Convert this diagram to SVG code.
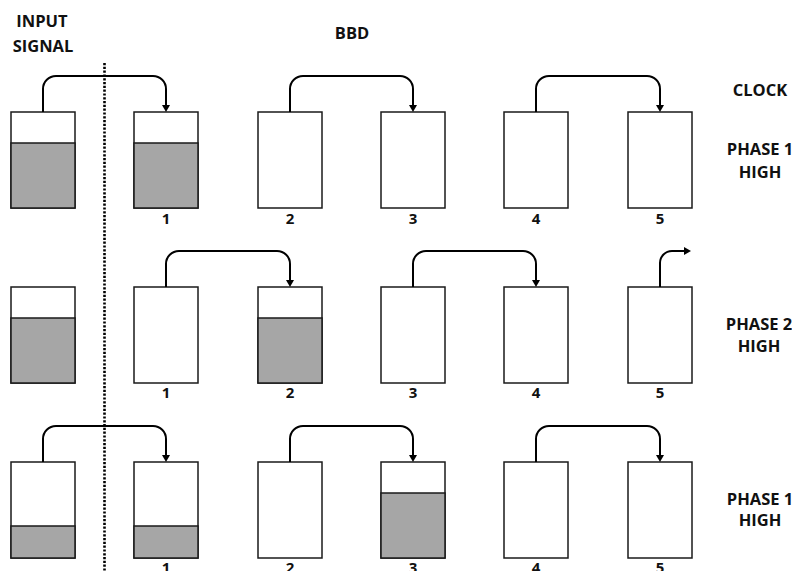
<svg xmlns="http://www.w3.org/2000/svg" width="792" height="571" viewBox="0 0 792 571">
<style>
  .box{fill:#fff;stroke:#1a1a1a;stroke-width:1.5}
  .fill{fill:#a6a6a6;stroke:#1a1a1a;stroke-width:1.5}
  .conn{fill:none;stroke:#000;stroke-width:2}
  .t{font-family:"Open Sans","DejaVu Sans",sans-serif;font-weight:700;font-size:16.5px;fill:#111;text-anchor:middle}
  .n{font-family:"Open Sans","DejaVu Sans",sans-serif;font-weight:700;font-size:15px;fill:#111;text-anchor:middle}
</style>
<defs>
  <marker id="ah" viewBox="0 0 7 8" refX="1" refY="4" markerWidth="7" markerHeight="8" markerUnits="userSpaceOnUse" orient="auto">
    <path d="M0,0 L7,4 L0,8 z" fill="#000"/>
  </marker>
</defs>
<rect width="792" height="571" fill="#fff"/>

<g id="labels">
  <text class="t" x="42" y="27">INPUT</text>
  <text class="t" x="43" y="52">SIGNAL</text>
  <text class="t" x="352" y="39">BBD</text>
  <text class="t" x="760" y="96">CLOCK</text>
  <text class="t" x="760" y="155">PHASE 1</text>
  <text class="t" x="760" y="178">HIGH</text>
  <text class="t" x="759" y="330">PHASE 2</text>
  <text class="t" x="759" y="352">HIGH</text>
  <text class="t" x="760" y="505">PHASE 1</text>
  <text class="t" x="760" y="526">HIGH</text>
</g>

<line id="divider" x1="104.5" y1="63" x2="104.5" y2="571" stroke="#000" stroke-width="2.6" stroke-dasharray="2.2 1.6"/>

<!-- Row 1 -->
<g id="r1-in"><rect class="box" x="11" y="112" width="64" height="96"/><rect class="fill" x="11" y="143" width="64" height="65"/></g>
<g id="r1-c1"><rect class="box" x="134" y="112" width="64" height="96"/><rect class="fill" x="134" y="143" width="64" height="65"/><text class="n" x="166" y="224">1</text></g>
<g id="r1-c2"><rect class="box" x="258" y="112" width="64" height="96"/><text class="n" x="290" y="224">2</text></g>
<g id="r1-c3"><rect class="box" x="381" y="112" width="64" height="96"/><text class="n" x="413" y="224">3</text></g>
<g id="r1-c4"><rect class="box" x="504" y="112" width="64" height="96"/><text class="n" x="536" y="224">4</text></g>
<g id="r1-c5"><rect class="box" x="628" y="112" width="64" height="96"/><text class="n" x="660" y="224">5</text></g>

<!-- Row 2 -->
<g id="r2-in"><rect class="box" x="11" y="287" width="64" height="96"/><rect class="fill" x="11" y="318" width="64" height="65"/></g>
<g id="r2-c1"><rect class="box" x="134" y="287" width="64" height="96"/><text class="n" x="166" y="398">1</text></g>
<g id="r2-c2"><rect class="box" x="258" y="287" width="64" height="96"/><rect class="fill" x="258" y="318" width="64" height="65"/><text class="n" x="290" y="398">2</text></g>
<g id="r2-c3"><rect class="box" x="381" y="287" width="64" height="96"/><text class="n" x="413" y="398">3</text></g>
<g id="r2-c4"><rect class="box" x="504" y="287" width="64" height="96"/><text class="n" x="536" y="398">4</text></g>
<g id="r2-c5"><rect class="box" x="628" y="287" width="64" height="96"/><text class="n" x="660" y="398">5</text></g>

<!-- Row 3 -->
<g id="r3-in"><rect class="box" x="11" y="462" width="64" height="96"/><rect class="fill" x="11" y="526" width="64" height="32"/></g>
<g id="r3-c1"><rect class="box" x="134" y="462" width="64" height="96"/><rect class="fill" x="134" y="526" width="64" height="32"/><text class="n" x="166" y="573">1</text></g>
<g id="r3-c2"><rect class="box" x="258" y="462" width="64" height="96"/><text class="n" x="290" y="573">2</text></g>
<g id="r3-c3"><rect class="box" x="381" y="462" width="64" height="96"/><rect class="fill" x="381" y="493" width="64" height="65"/><text class="n" x="413" y="573">3</text></g>
<g id="r3-c4"><rect class="box" x="504" y="462" width="64" height="96"/><text class="n" x="536" y="573">4</text></g>
<g id="r3-c5"><rect class="box" x="628" y="462" width="64" height="96"/><text class="n" x="660" y="573">5</text></g>

<g id="connectors">
  <path class="conn" marker-end="url(#ah)" d="M43 112 V89 A13 13 0 0 1 56 76 H153 A13 13 0 0 1 166 89 V106"/>
  <path class="conn" marker-end="url(#ah)" d="M290 112 V89 A13 13 0 0 1 303 76 H400 A13 13 0 0 1 413 89 V106"/>
  <path class="conn" marker-end="url(#ah)" d="M536 112 V89 A13 13 0 0 1 549 76 H647 A13 13 0 0 1 660 89 V106"/>

  <path class="conn" marker-end="url(#ah)" d="M166 287 V264 A13 13 0 0 1 179 251 H277 A13 13 0 0 1 290 264 V281"/>
  <path class="conn" marker-end="url(#ah)" d="M413 287 V264 A13 13 0 0 1 426 251 H523 A13 13 0 0 1 536 264 V281"/>
  <path class="conn" marker-end="url(#ah)" d="M660 287 V263 A12 12 0 0 1 672 251 H685"/>

  <path class="conn" marker-end="url(#ah)" d="M43 462 V439 A13 13 0 0 1 56 426 H153 A13 13 0 0 1 166 439 V456"/>
  <path class="conn" marker-end="url(#ah)" d="M290 462 V439 A13 13 0 0 1 303 426 H400 A13 13 0 0 1 413 439 V456"/>
  <path class="conn" marker-end="url(#ah)" d="M536 462 V439 A13 13 0 0 1 549 426 H647 A13 13 0 0 1 660 439 V456"/>
</g>
</svg>
